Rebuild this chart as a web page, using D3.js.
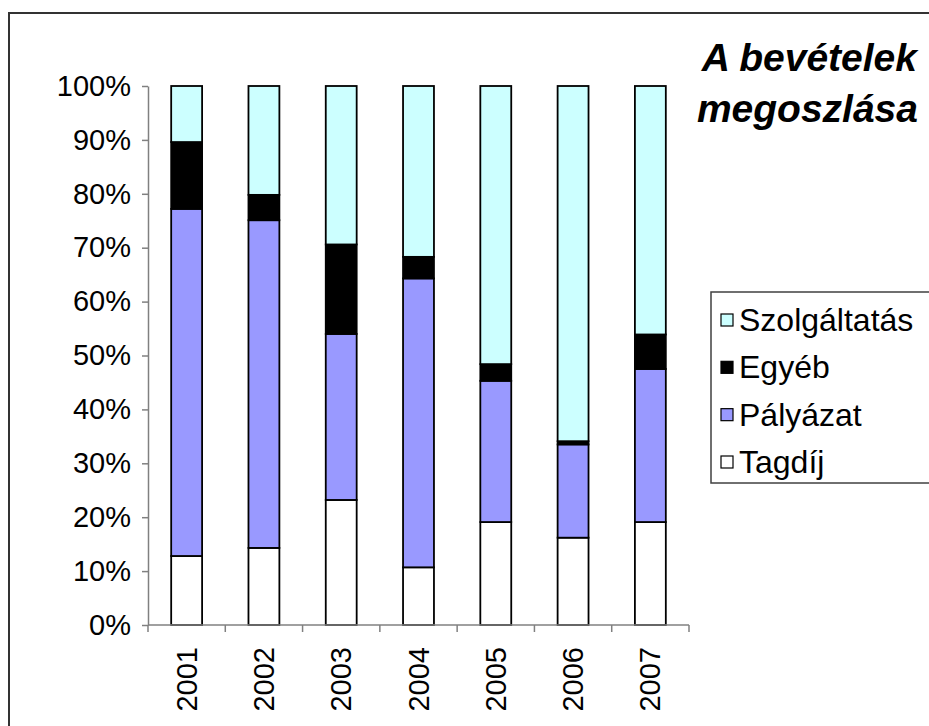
<!DOCTYPE html>
<html>
<head>
<meta charset="utf-8">
<script src="https://cdn.jsdelivr.net/npm/d3@7"></script>
<style>
  body { margin: 0; background: #fff; }
  text { font-family: "Liberation Sans", Arial, sans-serif; }
</style>
</head>
<body>
<div id="chart"></div>
<script>
'use strict';

// Data: share of income per year (percent)
var years = ['2001', '2002', '2003', '2004', '2005', '2006', '2007']
var tagdij = [12.8, 14.3, 23.2, 10.7, 19.1, 16.2, 19.1]
var palyazat = [64.4, 60.8, 30.8, 53.6, 26.2, 17.3, 28.4]
var egyeb = [12.4, 4.7, 16.6, 4.0, 3.1, 0.6, 6.4]
var szolgaltatas = [10.4, 20.2, 29.4, 31.7, 51.6, 65.9, 46.1]
var seriesNames = ['Tagdíj', 'Pályázat', 'Egyéb', 'Szolgáltatás']
var yTicks = [0, 0.1, 0.2, 0.3, 0.4, 0.5, 0.6, 0.7, 0.8, 0.9, 1]

var colors = {
  'Tagdíj': '#ffffff',
  'Pályázat': '#9999ff',
  'Egyéb': '#000000',
  'Szolgáltatás': '#ccffff'
}

var rows = years.map(function(y, i){
  var tot = tagdij[i] + palyazat[i] + egyeb[i] + szolgaltatas[i]
  return {
    year: y,
    'Tagdíj': tagdij[i] / tot,
    'Pályázat': palyazat[i] / tot,
    'Egyéb': egyeb[i] / tot,
    'Szolgáltatás': szolgaltatas[i] / tot
  }
})

var W = 929, H = 726
var plot = {left: 148, right: 689, top: 86, bottom: 625}

var svg = d3.select('#chart').append('svg')
  .attr('width', W)
  .attr('height', H)

// outer chart frame (runs off the right and bottom edges)
svg.append('rect')
  .attr('x', 9).attr('y', 13)
  .attr('width', W).attr('height', H)
  .attr('fill', '#fff')
  .attr('stroke', '#333')
  .attr('stroke-width', 2)

var x = d3.scaleBand()
  .domain(years)
  .range([plot.left, plot.right])
  .paddingInner(0.6)
  .paddingOuter(0.3)

var y = d3.scaleLinear()
  .domain([0, 1])
  .range([plot.bottom, plot.top])

var stack = d3.stack().keys(seriesNames)(rows)

// bars
svg.append('g')
  .selectAll('g')
  .data(stack)
  .join('g')
    .attr('fill', function(d){ return colors[d.key] })
  .selectAll('rect')
  .data(function(d){ return d })
  .join('rect')
    .attr('x', function(d){ return x(d.data.year) })
    .attr('y', function(d){ return y(d[1]) })
    .attr('width', x.bandwidth())
    .attr('height', function(d){ return y(d[0]) - y(d[1]) })
    .attr('stroke', '#000')
    .attr('stroke-width', 1.8)

// y axis
var yAxis = svg.append('g')
  .attr('transform', 'translate(' + plot.left + ',0)')
  .call(d3.axisLeft(y).tickValues(yTicks).tickFormat(d3.format('.0%')).tickSizeInner(6).tickSizeOuter(0).tickPadding(11))
yAxis.select('.domain').attr('stroke', '#808080').attr('stroke-width', 1.5)
yAxis.selectAll('.tick line').attr('stroke', '#808080').attr('stroke-width', 1.5)
yAxis.selectAll('.tick text')
  .attr('fill', '#000')
  .style('font-size', '29px')
  .style('font-family', '"Liberation Sans", Arial, sans-serif')

// x axis: ticks at category boundaries
var xAxisG = svg.append('g')
  .attr('transform', 'translate(0,' + plot.bottom + ')')
xAxisG.append('line')
  .attr('x1', plot.left).attr('x2', plot.right)
  .attr('stroke', '#808080').attr('stroke-width', 1.5)
var bounds = years.map(function(d){ return x(d) + x.bandwidth() / 2 - x.step() / 2 })
bounds.push(plot.right)
xAxisG.selectAll('.xt')
  .data(bounds)
  .join('line')
    .attr('class', 'xt')
    .attr('x1', function(d){ return d }).attr('x2', function(d){ return d })
    .attr('y1', 0).attr('y2', 7)
    .attr('stroke', '#808080').attr('stroke-width', 1.5)
xAxisG.selectAll('.xl')
  .data(years)
  .join('text')
    .attr('class', 'xl')
    .attr('transform', function(d){ return 'translate(' + (x(d) + x.bandwidth() / 2 + 10) + ',22) rotate(-90)' })
    .attr('text-anchor', 'end')
    .style('font-size', '29px')
    .text(function(d){ return d })

// title
var title = svg.append('text')
  .attr('text-anchor', 'end')
  .style('font-size', '39px')
  .style('font-weight', 'bold')
  .style('font-style', 'italic')
title.append('tspan').attr('x', 917).attr('y', 71).text('A bevételek')
title.append('tspan').attr('x', 918).attr('y', 122).text('megoszlása')

// legend
var legend = svg.append('g')
legend.append('rect')
  .attr('x', 711).attr('y', 292)
  .attr('width', 240).attr('height', 191)
  .attr('fill', '#fff')
  .attr('stroke', '#404040')
  .attr('stroke-width', 1.5)

var legendOrder = seriesNames.slice().reverse()
var ly = d3.scalePoint().domain(legendOrder).range([320, 462])
var item = legend.selectAll('.item')
  .data(legendOrder)
  .join('g')
    .attr('class', 'item')
    .attr('transform', function(d){ return 'translate(721,' + ly(d) + ')' })
item.append('rect')
  .attr('x', 0).attr('y', -6)
  .attr('width', 12).attr('height', 12)
  .attr('fill', function(d){ return colors[d] })
  .attr('stroke', '#000')
  .attr('stroke-width', 1.2)
item.append('text')
  .attr('x', 18).attr('y', 11)
  .style('font-size', '32px')
  .text(function(d){ return d })
</script>
</body>
</html>
